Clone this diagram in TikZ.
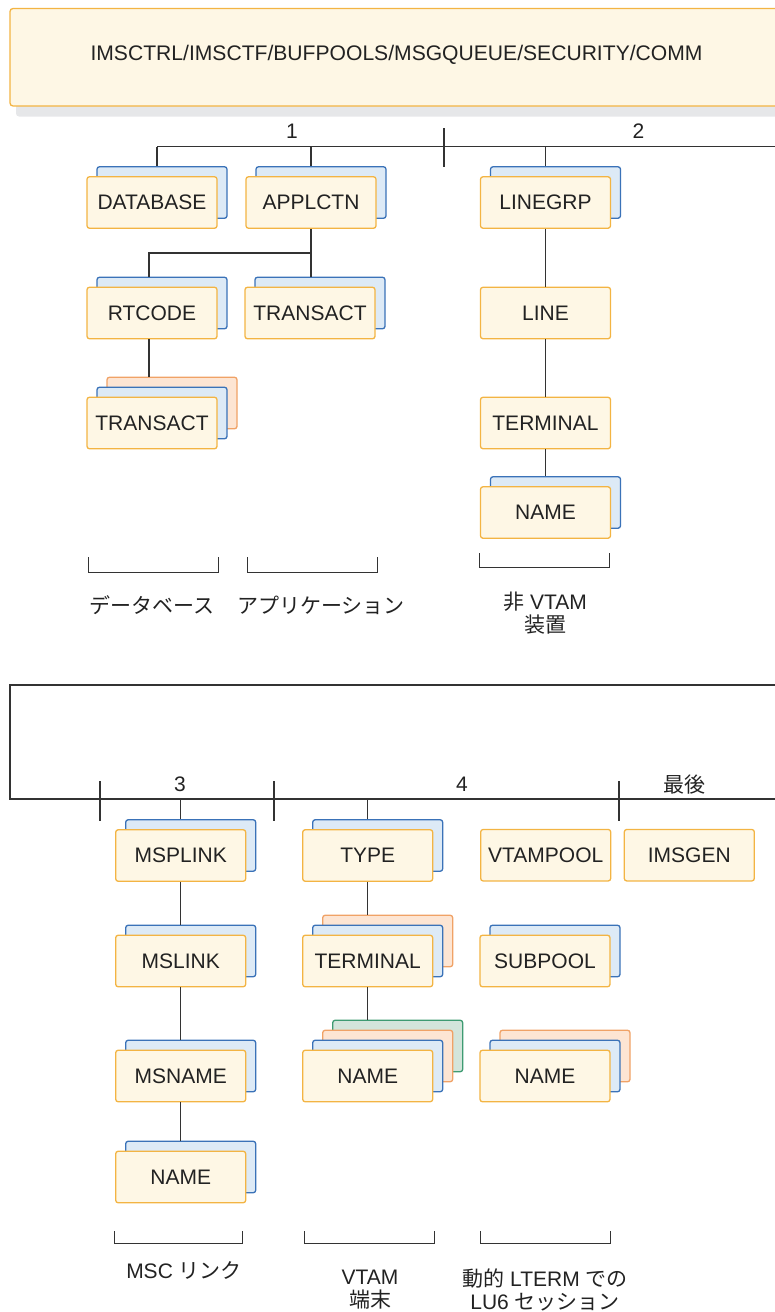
\documentclass[tikz,border=0pt]{standalone}
\usepackage{fontspec}
\setmainfont{Liberation Sans}
\newfontfamily\cjk{Noto Sans CJK JP}
\usetikzlibrary{calc}

\definecolor{txt}{HTML}{222222}
\definecolor{ln}{HTML}{333333}
\definecolor{frontfill}{HTML}{FEF7E5}
\definecolor{frontdraw}{HTML}{F3B443}
\definecolor{bluefill}{HTML}{DDEAF6}
\definecolor{bluedraw}{HTML}{3A72B8}
\definecolor{orfill}{HTML}{FDE5D3}
\definecolor{ordraw}{HTML}{F0A266}
\definecolor{grfill}{HTML}{D3E5DB}
\definecolor{grdraw}{HTML}{3E9B72}
\definecolor{shadowc}{HTML}{E6E7E9}

\tikzset{
  card/.style={rounded corners=2.5pt, minimum width=130pt, minimum height=51.5pt, inner sep=0pt, line width=1.3pt},
  frontcard/.style={card, draw=frontdraw, fill=frontfill, text=txt, font=\fontsize{21}{24}\selectfont},
  bluecard/.style={card, draw=bluedraw, fill=bluefill},
  orcard/.style={card, draw=ordraw, fill=orfill},
  grcard/.style={card, draw=grdraw, fill=grfill},
  conn/.style={draw=ln, line width=1.2pt},
  lbl/.style={text=txt, font=\fontsize{21}{23}\selectfont, align=center, inner sep=0pt},
}

\newcommand\cardA[4]{%
  \node[frontcard] (#1) at (#2,#3) {#4};}
\newcommand\cardB[4]{%
  \node[bluecard] (#1-b) at (#2+10,#3-10) {};
  \node[frontcard] (#1) at (#2,#3) {#4};}
\newcommand\cardC[4]{%
  \node[orcard] (#1-o) at (#2+20,#3-20) {};
  \node[bluecard] (#1-b) at (#2+10,#3-10) {};
  \node[frontcard] (#1) at (#2,#3) {#4};}
\newcommand\cardD[4]{%
  \node[grcard] (#1-g) at (#2+30,#3-30) {};
  \node[orcard] (#1-o) at (#2+20,#3-20) {};
  \node[bluecard] (#1-b) at (#2+10,#3-10) {};
  \node[frontcard] (#1) at (#2,#3) {#4};}

\begin{document}
\begin{tikzpicture}[x=1pt,y=-1pt]
\useasboundingbox (0,0) rectangle (775,1312);
\clip (0,0) rectangle (775,1312);

% ---------- top header box ----------
\fill[shadowc, rounded corners=3pt] (16,18) rectangle (812,116.5);
\draw[frontdraw, fill=frontfill, line width=1.3pt, rounded corners=3pt] (10,8.5) rectangle (805,106);
\node[lbl, font=\fontsize{21.1}{24}\selectfont] (hdr) at (396.5,55) {IMSCTRL/IMSCTF/BUFPOOLS/MSGQUEUE/SECURITY/COMM};

% ---------- top section cards ----------
\cardB{db}{152}{202.5}{DATABASE}
\cardB{app}{311}{202.5}{APPLCTN\hspace{5pt}}
\cardB{lgrp}{545.5}{202.5}{LINEGRP\hspace{8pt}}
\cardB{rt}{152}{313}{RTCODE\hspace{9pt}}
\cardB{tra}{310}{313}{TRANSACT}
\cardA{line}{545.5}{313}{LINE}
\cardC{trb}{152}{423}{TRANSACT}
\cardA{terma}{545.5}{423}{TERMINAL}
\cardB{namea}{545.5}{512.5}{NAME}

% bus 1/2
\coordinate (busL) at (157,146.5);
\coordinate (busR) at (790,146.5);
\draw[conn] (busL) -- (busR);
\draw[conn] (busL) -- (busL |- db-b.north);
\draw[conn] (app.center |- busL) -- (app.center |- app-b.north);
\draw[conn] (lgrp.center |- busL) -- (lgrp.center |- lgrp-b.north);
\coordinate (tickA1) at (444,128);
\coordinate (tickA2) at (444,167);
\draw[conn] (tickA1) -- (tickA2);
\node[lbl] (n1) at (292,131) {1};
\node[lbl] (n2) at (638.5,131) {2};

% application subtree
\coordinate (br) at (149,253);
\draw[conn] (app.south) -- (app.south |- tra-b.north);
\draw[conn] (app.south |- br) -- (br) -- (br |- rt-b.north);
\draw[conn] (br |- rt.south) -- (br |- trb-o.north);

% non-VTAM chain
\draw[conn] (lgrp.south) -- (line.north);
\draw[conn] (line.south) -- (terma.north);
\draw[conn] (terma.south) -- (terma.south |- namea-b.north);

% top brackets
\draw[conn, line width=1pt] (88,557) -- (88,572) -- (218,572) -- (218,557);
\draw[conn, line width=1pt] (247.5,557) -- (247.5,572) -- (377,572) -- (377,557);
\draw[conn, line width=1pt] (479,553) -- (479,567) -- (609,567) -- (609,553);

\node[lbl] (ldb) at (152,605) {\cjk データベース};
\node[lbl] (lapp) at (321,605) {\cjk アプリケーション};
\node[lbl] (lnv) at (545,613.5) {{\cjk 非} VTAM\\{\cjk 装置}};

% ---------- bottom section ----------
\coordinate (frTL) at (10,685);
\coordinate (frBR) at (800,799);
\draw[conn] (frTL) rectangle (frBR);

\cardB{msp}{180.7}{855.5}{MSPLINK}
\cardB{type}{367.7}{855.5}{TYPE\hspace{12pt}}
\cardA{vpool}{545.7}{855.2}{VTAMPOOL}
\cardA{gen}{689.3}{855.2}{IMSGEN}
\cardB{msl}{180.7}{961}{MSLINK}
\cardC{termb}{367.7}{961}{TERMINAL\hspace{4pt}}
\cardB{sub}{545}{961}{SUBPOOL}
\cardB{msn}{180.7}{1076}{MSNAME}
\cardD{nameb}{367.7}{1076}{NAME\hspace{12pt}}
\cardC{namec}{545}{1076}{NAME}
\cardB{named}{180.7}{1177}{NAME}

% ticks and labels
\coordinate (tickB1) at (100,781);
\coordinate (tickB2) at (100,821);
\coordinate (tickC1) at (274,781);
\coordinate (tickC2) at (274,821);
\coordinate (tickD1) at (619,781);
\coordinate (tickD2) at (619,821);
\draw[conn] (tickB1) -- (tickB2);
\draw[conn] (tickC1) -- (tickC2);
\draw[conn] (tickD1) -- (tickD2);
\node[lbl] (n3) at (180,784) {3};
\node[lbl] (n4) at (462,784) {4};
\node[lbl] (nlast) at (684,785) {\cjk 最後};

% drops
\draw[conn] (msp.center |- frBR) -- (msp.center |- msp-b.north);
\draw[conn] (type.center |- frBR) -- (type.center |- type-b.north);

% chains
\draw[conn] (msp.south) -- (msp.south |- msl-b.north);
\draw[conn] (msl.south) -- (msl.south |- msn-b.north);
\draw[conn] (msn.south) -- (msn.south |- named-b.north);
\draw[conn] (type.south) -- (type.south |- termb-o.north);
\draw[conn] (termb.south) -- (termb.south |- nameb-g.north);

% bottom brackets
\draw[conn, line width=1pt] (114,1231) -- (114,1243) -- (242,1243) -- (242,1231);
\draw[conn, line width=1pt] (304.5,1231) -- (304.5,1243) -- (434,1243) -- (434,1231);
\draw[conn, line width=1pt] (480,1231) -- (480,1243) -- (610,1243) -- (610,1231);

\node[lbl] (lmsc) at (184,1270) {MSC {\cjk リンク}};
\node[lbl] (lvt) at (370,1289.5) {VTAM\\{\cjk 端末}};
\node[lbl] (llu) at (545,1289.5) {{\cjk 動的} LTERM {\cjk での}\\LU6 {\cjk セッション}};
\end{tikzpicture}
\end{document}
